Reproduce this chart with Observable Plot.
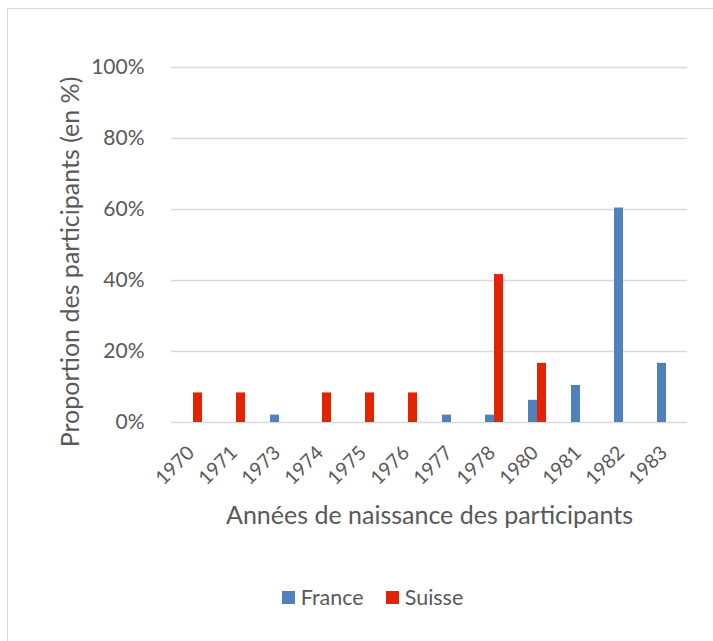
<!DOCTYPE html>
<html>
<head>
<meta charset="utf-8">
<script src="https://cdn.jsdelivr.net/npm/d3@7"></script>
<script src="https://cdn.jsdelivr.net/npm/@observablehq/plot@0.6"></script>
<style>
  html, body { margin: 0; padding: 0; background: #fff; overflow: hidden; }
  #wrap { position: relative; width: 713px; height: 641px; overflow: hidden; font-family: Lato, sans-serif; }
  #frame { position: absolute; left: 7px; top: 8px; width: 760px; height: 700px; border-left: 1.5px solid #d9d9d9; border-top: 1.5px solid #d9d9d9; }
  #chart { position: absolute; left: 0; top: 0; }
  #chart [aria-label="y-axis label"] text { font-size: 25px; }
  #chart [aria-label="fx-axis label"] text { font-size: 25px; }
  #chart [aria-label="y-axis tick label"] text { font-size: 21px; }
  #chart [aria-label="fx-axis tick label"] text { font-size: 19.5px; }
  #legend { position: absolute; top: 584px; left: 0; width: 713px; box-sizing: border-box; padding-left: 32px; display: flex; justify-content: center; gap: 22px; font-size: 21.5px; color: #595959; }
  #legend span.item { display: inline-flex; align-items: center; }
  #legend span.sw { display: inline-block; width: 13px; height: 13px; margin-right: 6px; }
</style>
</head>
<body>
<div id="wrap">
  <div id="frame"></div>
  <div id="chart"></div>
  <div id="legend"></div>
</div>
<script>
const years = ["1970","1971","1973","1974","1975","1976","1977","1978","1980","1981","1982","1983"];
const france = [0, 0, 2.08, 0, 0, 0, 2.08, 2.08, 6.25, 10.42, 60.42, 16.67];
const suisse = [8.33, 8.33, 0, 8.33, 8.33, 8.33, 0, 41.67, 16.67, 0, 0, 0];
const countries = ["France", "Suisse"];
const colors = ["#4f81bd", "#e32402"];
const yTicks = [0, 20, 40, 60, 80, 100];
const xTitle = "Années de naissance des participants";
const yTitle = "Proportion des participants (en %)";

const data = years.flatMap((y, i) => [
  {year: y, country: "France", value: france[i]},
  {year: y, country: "Suisse", value: suisse[i]}
]).filter(d => d.value > 0);

const chart = Plot.plot({
  width: 713,
  height: 560,
  marginLeft: 167,
  marginRight: 23,
  marginTop: 67,
  marginBottom: 138,
  style: {fontFamily: "Lato, sans-serif", fontSize: "20px", color: "#595959", background: "transparent", overflow: "visible"},
  fx: {domain: years, padding: 0, tickRotate: -45, tickSize: 0, tickPadding: 10, label: xTitle, labelAnchor: "center", labelOffset: 101, labelArrow: "none"},
  x: {domain: countries, paddingInner: 0, paddingOuter: 1.18, axis: null},
  y: {domain: [0, 100], ticks: yTicks, tickFormat: d => d + "%", tickSize: 0, tickPadding: 27, label: yTitle, labelAnchor: "center", labelOffset: 110, labelArrow: "none"},
  color: {domain: countries, range: colors},
  marks: [
    Plot.ruleY(yTicks, {stroke: "#d9d9d9", strokeWidth: 1.3}),
    Plot.barY(data, {fx: "year", x: "country", y: "value", fill: "country"})
  ]
});
document.getElementById("chart").appendChild(chart);

function shift(sel, dx, dy) {
  chart.querySelectorAll(sel).forEach(g => {
    const t = g.getAttribute("transform") || "";
    g.setAttribute("transform", `translate(${dx},${dy}) ${t}`);
  });
}
shift('[aria-label="y-axis label"]', 0, 17);
shift('[aria-label="fx-axis tick label"]', -2, 17);

const legend = document.getElementById("legend");
countries.forEach((c, i) => {
  const item = document.createElement("span");
  item.className = "item";
  const sw = document.createElement("span");
  sw.className = "sw";
  sw.style.background = colors[i];
  item.appendChild(sw);
  item.appendChild(document.createTextNode(c));
  legend.appendChild(item);
});
</script>
</body>
</html>
